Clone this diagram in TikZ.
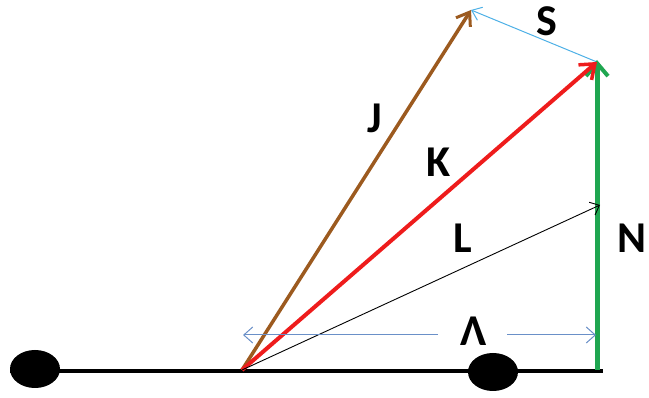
\documentclass[tikz,border=0pt]{standalone}
\usepackage{fontspec}
\setmainfont{Carlito}
\usetikzlibrary{arrows.meta}
\definecolor{jbrown}{HTML}{9C5A1F}
\definecolor{kred}{HTML}{EE1C1C}
\definecolor{ngreen}{HTML}{1FA650}
\definecolor{sblue}{HTML}{4DB0E6}
\definecolor{dblue}{HTML}{6A90C8}
\tikzset{
  lbl/.style={font=\fontsize{44}{44}\selectfont\bfseries, inner sep=0pt},
  dot/.style={ellipse, fill=black, minimum width=50pt, minimum height=38pt, inner sep=0pt},
}
\usetikzlibrary{shapes.geometric}
\begin{document}
\begin{tikzpicture}[x=1pt,y=-1pt]
\useasboundingbox (0,0) rectangle (649,398);
% coordinates
\coordinate (O) at (242,370);
\coordinate (Bl) at (10,371);
\coordinate (Br) at (603,371);
\coordinate (Jt) at (471,10);
\coordinate (Kt) at (597,62);
\coordinate (Nb) at (597,370);
\coordinate (Lt) at (600,205);
\coordinate (Dl) at (243,335);
\coordinate (Dr) at (596,335);
% baseline and dots
\draw[line width=3.2pt] (Bl) -- (Br);
\node[dot] (e1) at (35,369) {};
\node[dot] (e2) at (493,372) {};
% vectors
\draw[sblue, line width=1pt, -{Straight Barb[length=9pt,width=14pt,line width=1pt]}] (Kt) -- (Jt);
\draw[ngreen, line width=5pt, -{Straight Barb[length=13pt,width=22pt,line width=4pt]}] (Nb) -- ([yshift=2pt]Kt);
\draw[jbrown, line width=3.5pt, -{Straight Barb[length=12pt,width=17pt,line width=3pt]}] (O) -- (Jt);
\draw[kred, line width=4pt, -{Straight Barb[length=13pt,width=20pt,line width=3.5pt]}] (O) -- (Kt);
\draw[black, line width=0.9pt, -{Straight Barb[length=8pt,width=14pt,line width=0.9pt]}] (O) -- (Lt);
% labels
\node[lbl] (S) at (547,21) {S};
\node[lbl] (J) at (375,118) {J};
\node[lbl] (K) at (439,162) {K};
\node[lbl] (L) at (463,238) {L};
\node[lbl] (N) at (632,238) {N};
\node[lbl] (Lam) at (474,331) {Λ};
% dimension arrow
\draw[dblue, line width=1pt, -{Straight Barb[length=9pt,width=16pt,line width=1pt]}] (438,335) -- (Dl);
\draw[dblue, line width=1pt, -{Straight Barb[length=9pt,width=16pt,line width=1pt]}] (507,335) -- (Dr);
\end{tikzpicture}
\end{document}
